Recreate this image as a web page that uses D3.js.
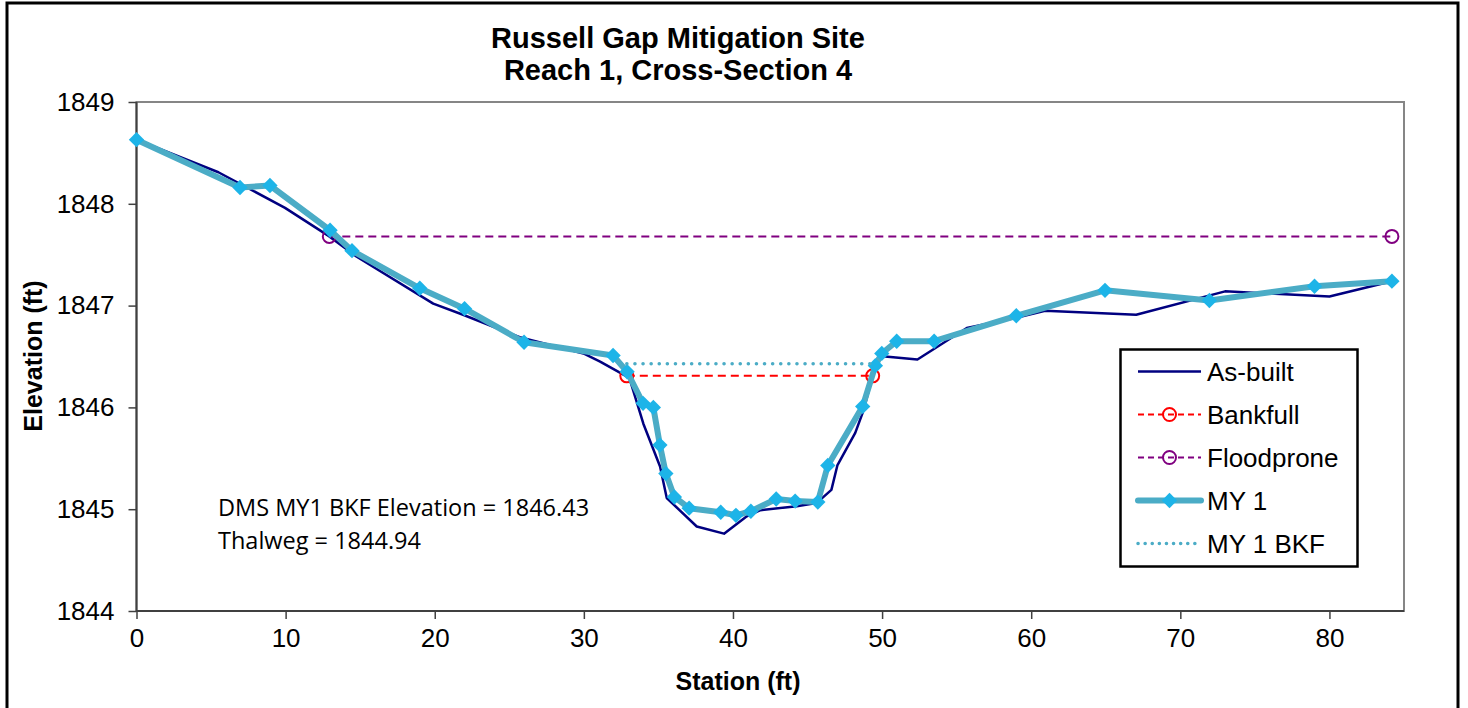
<!DOCTYPE html>
<html lang="en">
<head>
<meta charset="UTF-8">
<title>Russell Gap Mitigation Site - Reach 1, Cross-Section 4</title>
<script src="https://cdn.jsdelivr.net/npm/d3@7"></script>
<style>
    body { margin: 0; background: #fff; }
    text { font-family: "Liberation Sans", Arial, sans-serif; fill: #000; }
</style>
</head>
<body>
<svg width="1468" height="708"></svg>
<script>
// as-built survey
var asbuiltStation = [0, 5.49, 9.96, 12.93, 14.77, 19.9, 21.9, 25.7, 29.97, 31.09, 33.05, 33.99, 35.11, 35.56,
    37.57, 39.4, 40.93, 41.84, 44.28, 45.6, 46.6, 47.0, 48.2, 48.75, 49.37, 49.75, 50.2, 52.37,
    55.68, 59.0, 60.93, 67.04, 73.0, 80.0, 84.19];
var asbuiltElev = [1848.63, 1848.31, 1847.96, 1847.68, 1847.48, 1847.02, 1846.91, 1846.69, 1846.53, 1846.45, 1846.29, 1845.84, 1845.42, 1845.11,
    1844.83, 1844.76, 1844.93, 1844.99, 1845.03, 1845.06, 1845.19, 1845.43, 1845.75, 1845.97, 1846.31, 1846.5, 1846.5, 1846.47,
    1846.78, 1846.88, 1846.95, 1846.91, 1847.14, 1847.09, 1847.24];

// monitoring year 1 survey
var my1Station = [0, 6.94, 8.95, 12.98, 14.45, 19.0, 22.0, 25.99, 31.96, 32.9, 33.97, 34.66, 35.1, 35.5, 36.07,
    37.06, 39.18, 40.2, 41.2, 42.9, 44.17, 45.69, 46.36, 48.7, 49.55, 49.98, 50.98, 53.49, 59.0,
    64.95, 71.95, 79.0, 84.19];
var my1Elev = [1848.63, 1848.16, 1848.18, 1847.74, 1847.54, 1847.17, 1846.97, 1846.64, 1846.51, 1846.35, 1846.04, 1846.0, 1845.63, 1845.35, 1845.12,
    1845.01, 1844.97, 1844.94, 1844.98, 1845.10, 1845.08, 1845.07, 1845.43, 1846.01, 1846.41, 1846.53, 1846.65, 1846.65, 1846.90,
    1847.15, 1847.05, 1847.19, 1847.24];

var bankfullStation = [32.88, 49.37];
var bankfullElev = [1846.31, 1846.31];
var floodproneStation = [12.93, 84.19];
var floodproneElev = [1847.68, 1847.68];
var my1BkfStation = [32.88, 49.4];
var my1BkfElev = [1846.43, 1846.43];

var xTicks = [0, 10, 20, 30, 40, 50, 60, 70, 80];
var yTicks = [1844, 1845, 1846, 1847, 1848, 1849];
var legendNames = ["As-built", "Bankfull", "Floodprone", "MY 1", "MY 1 BKF"];
var notes = ["DMS MY1 BKF Elevation = 1846.43", "Thalweg = 1844.94"];

function pairs(xs, ys) {
    return xs.map(function (x, i) { return [x, ys[i]]; });
}

var svg = d3.select("svg");
var plotLeft = 136.5, plotRight = 1404, plotTop = 102, plotBottom = 611;

var x = d3.scaleLinear().domain([0, 85]).range([plotLeft, plotRight]);
var y = d3.scaleLinear().domain([1844, 1849]).range([plotBottom, plotTop]);

// outer chart frame
svg.append("rect")
    .attr("x", 7).attr("y", 3).attr("width", 1451).attr("height", 730)
    .attr("fill", "#fff").attr("stroke", "#000").attr("stroke-width", 3);

// plot area border
svg.append("rect")
    .attr("x", plotLeft).attr("y", plotTop).attr("width", plotRight - plotLeft).attr("height", plotBottom - plotTop)
    .attr("fill", "none").attr("stroke", "#868686").attr("stroke-width", 2);

// axes
var xAxis = svg.append("g")
    .attr("transform", "translate(0," + plotBottom + ")")
    .call(d3.axisBottom(x).tickValues(xTicks).tickSize(8).tickPadding(10).tickFormat(d3.format("d")));
var yAxis = svg.append("g")
    .attr("transform", "translate(" + plotLeft + ",0)")
    .call(d3.axisLeft(y).tickValues(yTicks).tickSize(8).tickPadding(14).tickFormat(d3.format("d")));
[xAxis, yAxis].forEach(function (g) {
    g.select(".domain").attr("stroke", "#404040").attr("stroke-width", 2);
    g.selectAll(".tick line").attr("stroke", "#404040").attr("stroke-width", 1.5);
    g.selectAll(".tick text")
        .style("font-family", "'Liberation Sans', Arial, sans-serif")
        .style("font-size", "26px").attr("fill", "#000");
});
xAxis.select(".domain").attr("d", "M" + plotLeft + ",0H" + plotRight);
yAxis.select(".domain").attr("d", "M0," + plotBottom + "V" + plotTop);

// titles
svg.append("text").attr("x", 678).attr("y", 48).attr("text-anchor", "middle")
    .style("font-size", "29px").style("font-weight", "bold").text("Russell Gap Mitigation Site");
svg.append("text").attr("x", 678).attr("y", 80).attr("text-anchor", "middle")
    .style("font-size", "29px").style("font-weight", "bold").text("Reach 1, Cross-Section 4");
svg.append("text").attr("x", 738).attr("y", 690).attr("text-anchor", "middle")
    .style("font-size", "25px").style("font-weight", "bold").text("Station (ft)");
svg.append("text").attr("transform", "translate(42,356) rotate(-90)").attr("text-anchor", "middle")
    .style("font-size", "25px").style("font-weight", "bold").text("Elevation (ft)");

var line = d3.line().x(function (d) { return x(d[0]); }).y(function (d) { return y(d[1]); });

var series = [
    { name: legendNames[0], data: pairs(asbuiltStation, asbuiltElev), color: "#000080", width: 2.5, dash: null, marker: null },
    { name: legendNames[1], data: pairs(bankfullStation, bankfullElev), color: "#ff0000", width: 2, dash: "8,5", marker: "circle" },
    { name: legendNames[2], data: pairs(floodproneStation, floodproneElev), color: "#800080", width: 2, dash: "8,5", marker: "circle" },
    { name: legendNames[3], data: pairs(my1Station, my1Elev), color: "#4bacc6", width: 6, dash: null, marker: "diamond" },
    { name: legendNames[4], data: pairs(my1BkfStation, my1BkfElev), color: "#4bacc6", width: 3.5, dash: "0.1,8", marker: null }
];

var diamond = d3.symbol().type(d3.symbolDiamond2).size(150);

function drawMarkers(g, s, pts) {
    if (s.marker === "circle") {
        g.selectAll("circle").data(pts).enter().append("circle")
            .attr("cx", function (d) { return d[0]; }).attr("cy", function (d) { return d[1]; })
            .attr("r", 6.5).attr("fill", "none").attr("stroke", s.color).attr("stroke-width", 2);
    } else if (s.marker === "diamond") {
        g.selectAll("path.mk").data(pts).enter().append("path").attr("class", "mk")
            .attr("d", diamond)
            .attr("transform", function (d) { return "translate(" + d[0] + "," + d[1] + ")"; })
            .attr("fill", "#1db4e8");
    }
}

series.forEach(function (s) {
    var g = svg.append("g");
    g.append("path").datum(s.data).attr("d", line)
        .attr("fill", "none").attr("stroke", s.color).attr("stroke-width", s.width)
        .attr("stroke-linejoin", "round")
        .attr("stroke-linecap", s.dash && s.dash.indexOf("0.1") === 0 ? "round" : "butt")
        .attr("stroke-dasharray", s.dash);
    drawMarkers(g, s, s.data.map(function (d) { return [x(d[0]), y(d[1])]; }));
});

// notes
svg.selectAll("text.note").data(notes).enter().append("text").attr("class", "note")
    .attr("x", 218).attr("y", function (d, i) { return 516 + i * 33; })
    .style("font-family", "'Open Sans', 'Noto Sans', sans-serif").style("font-size", "23.5px")
    .text(function (d) { return d; });

// legend
var lg = svg.append("g");
lg.append("rect").attr("x", 1120.5).attr("y", 349.5).attr("width", 237).attr("height", 217)
    .attr("fill", "#fff").attr("stroke", "#000").attr("stroke-width", 2.5);
var ly = d3.scalePoint().domain(legendNames).range([371.5, 543.5]);
series.forEach(function (s) {
    var g = lg.append("g");
    var yy = ly(s.name);
    g.append("path").attr("d", "M1138," + yy + "H1201")
        .attr("fill", "none").attr("stroke", s.color).attr("stroke-width", s.width)
        .attr("stroke-linecap", s.dash && s.dash.indexOf("0.1") === 0 ? "round" : (s.width > 4 ? "round" : "butt"))
        .attr("stroke-dasharray", s.dash === "0.1,8" ? "0.1,7" : (s.dash ? "6,4" : null));
    drawMarkers(g, s, [[1169.5, yy]]);
    g.append("text").attr("x", 1207).attr("y", yy + 9)
        .style("font-size", "26px").text(s.name);
});
</script>
</body>
</html>
